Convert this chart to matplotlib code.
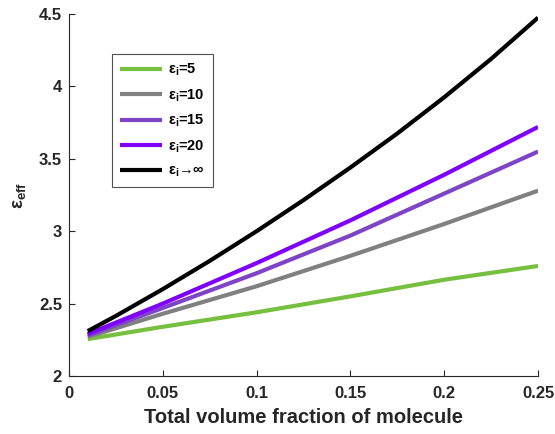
import matplotlib
matplotlib.use("Agg")
import matplotlib.pyplot as plt

plt.rcParams['font.family'] = ['Liberation Sans', 'DejaVu Sans']
plt.rcParams['mathtext.default'] = 'regular'
plt.rcParams['font.weight'] = 'bold'

x = [0.01, 0.05, 0.10, 0.15, 0.20, 0.25]
eps5 = [2.255, 2.34, 2.44, 2.55, 2.665, 2.76]
eps10 = [2.27, 2.43, 2.62, 2.83, 3.05, 3.28]
eps15 = [2.28, 2.47, 2.71, 2.97, 3.26, 3.55]
eps20 = [2.29, 2.50, 2.78, 3.075, 3.39, 3.72]
x_inf = [0.01, 0.025, 0.05, 0.075, 0.10, 0.125, 0.15, 0.175, 0.20, 0.225, 0.25]
eps_inf = [2.31, 2.415, 2.60, 2.795, 3.00, 3.215, 3.44, 3.675, 3.925, 4.19, 4.475]

labels = ['ε$_i$=5', 'ε$_i$=10', 'ε$_i$=15', 'ε$_i$=20', 'ε$_i$→∞']
colors = ['#77BF3F', '#808080', '#7E44C6', '#7F00FF', '#000000']

xticks = [0, 0.05, 0.1, 0.15, 0.2, 0.25]
xticklabels = ['0', '0.05', '0.1', '0.15', '0.2', '0.25']
yticks = [2, 2.5, 3, 3.5, 4, 4.5]
yticklabels = ['2', '2.5', '3', '3.5', '4', '4.5']

fig = plt.figure(figsize=(5.55, 4.34), dpi=100)
ax = fig.add_axes([0.1243, 0.1336, 0.9694 - 0.1243, 0.9677 - 0.1336])

series = [(x, eps5), (x, eps10), (x, eps15), (x, eps20), (x_inf, eps_inf)]
for (xs, ys), lab, c in zip(series, labels, colors):
    ax.plot(xs, ys, color=c, lw=3, label=lab, solid_capstyle='butt')

ax.set_xlim(0, 0.25)
ax.set_ylim(2, 4.5)
ax.set_xticks(xticks)
ax.set_xticklabels(xticklabels)
ax.set_yticks(yticks)
ax.set_yticklabels(yticklabels)
ax.tick_params(direction='in', length=4, width=0.8, labelsize=12, colors='#262626')
ax.tick_params(axis='x', pad=7)
ax.tick_params(axis='y', pad=5)
for lab in ax.get_xticklabels() + ax.get_yticklabels():
    lab.set_fontweight('bold')
ax.spines['top'].set_visible(False)
ax.spines['right'].set_visible(False)
for s in ['left', 'bottom']:
    ax.spines[s].set_color('#262626')
    ax.spines[s].set_linewidth(0.8)

ax.set_xlabel('Total volume fraction of molecule', fontsize=14.5, fontweight='bold',
              color='#262626', labelpad=5)
ax.set_ylabel('ε$_{eff}$', fontsize=13.5, fontweight='bold', color='#262626', labelpad=8)

leg = ax.legend(loc='upper left', bbox_to_anchor=(0.0917, 0.8895), borderaxespad=0,
                fontsize=10.5, frameon=True, fancybox=False, edgecolor='#262626',
                handlelength=2.9, labelspacing=0.62, borderpad=0.55, handletextpad=0.4)
leg.get_frame().set_linewidth(0.8)
for t in leg.get_texts():
    t.set_fontweight('bold')

fig.savefig('out.png', dpi=100)
